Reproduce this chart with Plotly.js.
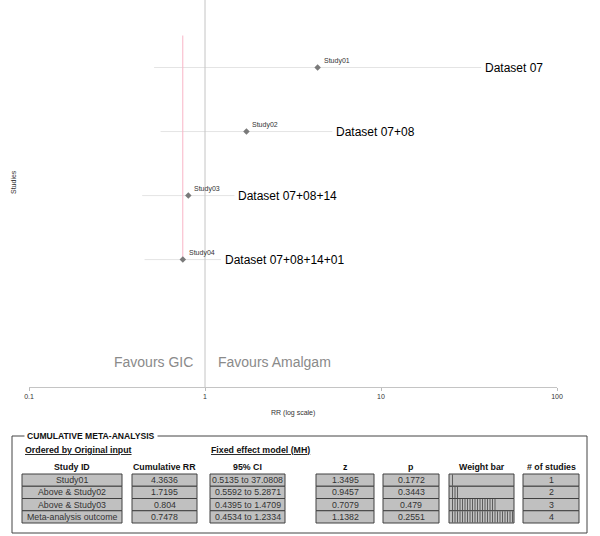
<!DOCTYPE html>
<html>
<head>
<meta charset="utf-8">
<script src="https://cdn.plot.ly/plotly-3.0.1.min.js"></script>
<style>html,body{margin:0;padding:0;background:#fff;}#chart{width:600px;height:536px;}</style>
</head>
<body>
<div id="chart"></div>
<script>
// ---- data ----
const studyLabels = ['Study01', 'Study02', 'Study03', 'Study04'];
const datasetLabels = ['Dataset 07', 'Dataset 07+08', 'Dataset 07+08+14', 'Dataset 07+08+14+01'];
const studyIds = ['Study01', 'Above & Study02', 'Above & Study03', 'Meta-analysis outcome'];
const cumRR = [4.3636, 1.7195, 0.804, 0.7478];
const ciLow = [0.5135, 0.5592, 0.4395, 0.4534];
const ciHigh = [37.0808, 5.2871, 1.4709, 1.2334];
const zVals = [1.3495, 0.9457, 0.7079, 1.1382];
const pVals = [0.1772, 0.3443, 0.479, 0.2551];
const weightBars = [1, 3, 18, 25];
const nStudies = [1, 2, 3, 4];
const tickVals = [0.1, 1, 10, 100];
const tickLabels = ['0.1', '1', '10', '100'];
const colHeaders = ['Study ID', 'Cumulative RR', '95% CI', 'z', 'p', 'Weight bar', '# of studies'];

// ---- layout constants ----
const FONT = 'Liberation Sans, Arial, sans-serif';
const W = 600, H = 536;
const plotBottom = 387;
const yPos = studyLabels.map((_, i) => i + 1);
const overall = cumRR[cumRR.length - 1];

const traces = [];
// CI lines
const ciX = [], ciY = [];
yPos.forEach((y, i) => { ciX.push(ciLow[i], ciHigh[i], null); ciY.push(y, y, null); });
traces.push({x: ciX, y: ciY, mode: 'lines', line: {color: '#e4e4e4', width: 1}, hoverinfo: 'skip', showlegend: false});
// line of no effect
traces.push({x: [1, 1], y: [-1, 7], mode: 'lines', line: {color: '#c4c4c4', width: 1}, hoverinfo: 'skip', showlegend: false});
// overall line (pink)
traces.push({x: [overall, overall], y: [0.5, yPos[yPos.length - 1]], mode: 'lines', line: {color: '#f9b4c6', width: 1}, hoverinfo: 'skip', showlegend: false});
// points
traces.push({x: cumRR, y: yPos, mode: 'markers', marker: {symbol: 'diamond', size: 5, color: '#7a7a7a'}, showlegend: false});

// table geometry
const cols = [[22, 122], [132, 197], [210, 285], [316, 374], [383, 439], [449, 514], [523, 579]];
const rowTop = 474, rowH = 12.25;
const rowCenter = r => rowTop + rowH * (r + 0.5);

// weight bars
const wbX = [], wbY = [];
weightBars.forEach((n, r) => { for (let k = 0; k < n; k++) { wbX.push(cols[5][0] + 3.5 + k * 2.5); wbY.push(rowCenter(r)); } });
traces.push({x: wbX, y: wbY, xaxis: 'x2', yaxis: 'y2', mode: 'markers', marker: {symbol: 'line-ns', size: 8, line: {color: '#444', width: 0.8}}, hoverinfo: 'skip', showlegend: false});

const annotations = [];
const shapes = [];
const TS = 8.8;

// study labels & dataset labels
yPos.forEach((y, i) => {
  annotations.push({x: Math.log10(cumRR[i]), y: y, xref: 'x', yref: 'y', text: studyLabels[i], showarrow: false,
    xanchor: 'left', yanchor: 'middle', xshift: 4, yshift: 7, font: {family: FONT, size: 7, color: '#333'}});
  annotations.push({x: Math.log10(ciHigh[i]), y: y, xref: 'x', yref: 'y', text: datasetLabels[i], showarrow: false,
    xanchor: 'left', yanchor: 'middle', xshift: 2, font: {family: FONT, size: 12, color: '#000'}});
});
// favours
annotations.push({x: 0, y: 5.6, xref: 'x', yref: 'y', text: 'Favours GIC', showarrow: false, xanchor: 'right', yanchor: 'middle', xshift: -10, font: {family: FONT, size: 14, color: '#8a8a8a'}});
annotations.push({x: 0, y: 5.6, xref: 'x', yref: 'y', text: 'Favours Amalgam', showarrow: false, xanchor: 'left', yanchor: 'middle', xshift: 11, font: {family: FONT, size: 14, color: '#8a8a8a'}});
// axis titles
annotations.push({x: 293, y: 413, xref: 'x2', yref: 'y2', text: 'RR (log scale)', showarrow: false, font: {family: FONT, size: 7, color: '#333'}});
annotations.push({x: 13, y: 182, xref: 'x2', yref: 'y2', text: 'Studies', textangle: -90, showarrow: false, font: {family: FONT, size: 7, color: '#333'}});

// table box
shapes.push({type: 'rect', xref: 'x2', yref: 'y2', x0: 12, x1: 587, y0: 436, y1: 533, line: {color: '#444', width: 1}, fillcolor: 'rgba(0,0,0,0)'});
annotations.push({x: 24, y: 436, xref: 'x2', yref: 'y2', text: '<b>CUMULATIVE META-ANALYSIS</b>', showarrow: false, xanchor: 'left', yanchor: 'middle',
  bgcolor: '#fff', borderpad: 2, font: {family: FONT, size: 8.6, color: '#111'}});
annotations.push({x: 23, y: 450, xref: 'x2', yref: 'y2', text: '<b><u>Ordered by Original input</u></b>', showarrow: false, xanchor: 'left', yanchor: 'middle', font: {family: FONT, size: TS, color: '#111'}});
annotations.push({x: 209, y: 450, xref: 'x2', yref: 'y2', text: '<b><u>Fixed effect model (MH)</u></b>', showarrow: false, xanchor: 'left', yanchor: 'middle', font: {family: FONT, size: TS, color: '#111'}});

const cellText = [
  studyIds,
  cumRR.map(String),
  ciLow.map((l, i) => l + ' to ' + ciHigh[i]),
  zVals.map(String),
  pVals.map(String),
  null,
  nStudies.map(String)
];
cols.forEach((c, j) => {
  annotations.push({x: (c[0] + c[1]) / 2, y: 467, xref: 'x2', yref: 'y2', text: '<b>' + colHeaders[j] + '</b>', showarrow: false, yanchor: 'middle', font: {family: FONT, size: TS, color: '#111'}});
  for (let r = 0; r < studyIds.length; r++) {
    shapes.push({type: 'rect', xref: 'x2', yref: 'y2', x0: c[0], x1: c[1], y0: rowTop + rowH * r, y1: rowTop + rowH * (r + 1),
      fillcolor: '#c0c0c0', line: {color: '#404040', width: 1}, layer: 'below'});
    if (cellText[j]) {
      annotations.push({x: (c[0] + c[1]) / 2, y: rowCenter(r), xref: 'x2', yref: 'y2', text: cellText[j][r], showarrow: false, yanchor: 'middle', font: {family: FONT, size: TS, color: '#333'}});
    }
  }
});

const layout = {
  width: W, height: H,
  margin: {l: 0, r: 0, t: 0, b: 0, autoexpand: false},
  paper_bgcolor: '#fff', plot_bgcolor: 'rgba(0,0,0,0)',
  showlegend: false,
  xaxis: {type: 'log', range: [-1, 2], domain: [29 / W, 557 / W], anchor: 'y',
    tickvals: tickVals, ticktext: tickLabels, ticks: 'outside', ticklen: 3, tickcolor: '#bbb',
    showline: true, linecolor: '#c4c4c4', linewidth: 1, showgrid: false, zeroline: false,
    tickfont: {family: FONT, size: 7, color: '#333'}},
  yaxis: {range: [5.99, -0.055], domain: [1 - plotBottom / H, 1], anchor: 'x',
    visible: false, showgrid: false, zeroline: false},
  xaxis2: {range: [0, W], domain: [0, 1], anchor: 'y2', visible: false, fixedrange: true},
  yaxis2: {range: [H, 0], domain: [0, 1], anchor: 'x2', visible: false, fixedrange: true},
  shapes: shapes,
  annotations: annotations
};

Plotly.newPlot('chart', traces, layout, {displayModeBar: false, staticPlot: true});
</script>
</body>
</html>
